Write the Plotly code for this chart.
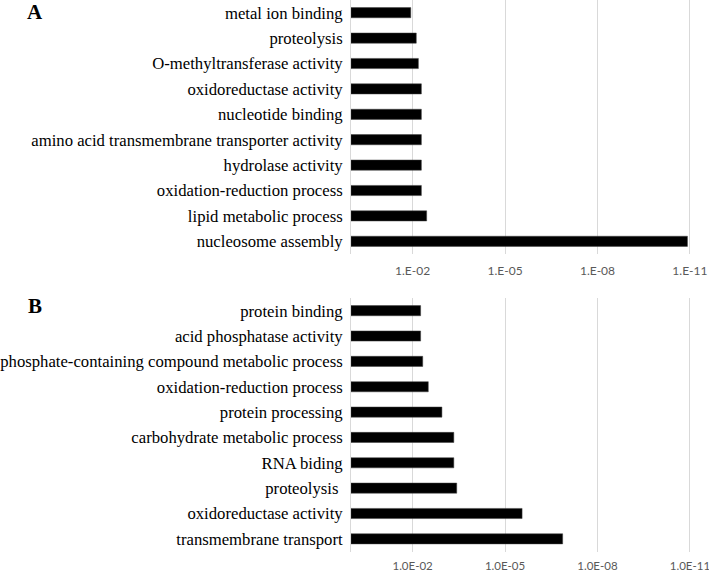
import math
import plotly.graph_objects as go

# Panel A (top to bottom)
cats_a = ["metal ion binding", "proteolysis", "O-methyltransferase activity",
          "oxidoreductase activity", "nucleotide binding",
          "amino acid transmembrane transporter activity", "hydrolase activity",
          "oxidation-reduction process", "lipid metabolic process",
          "nucleosome assembly"]
p_a = [1.15e-2, 7.6e-3, 6.5e-3, 5.2e-3, 5.2e-3, 5.2e-3, 5.2e-3, 5.2e-3,
       3.5e-3, 1.2e-11]

# Panel B (top to bottom)
cats_b = ["protein binding", "acid phosphatase activity",
          "phosphate-containing compound metabolic process",
          "oxidation-reduction process", "protein processing",
          "carbohydrate metabolic process", "RNA biding", "proteolysis ",
          "oxidoreductase activity", "transmembrane transport"]
p_b = [5.5e-3, 5.5e-3, 4.7e-3, 3.1e-3, 1.12e-3, 4.6e-4, 4.6e-4, 3.7e-4,
       2.8e-6, 1.35e-7]

tick_p = [1e-2, 1e-5, 1e-8, 1e-11]
ticktext_a = ["1.E-02", "1.E-05", "1.E-08", "1.E-11"]
ticktext_b = ["1.0E-02", "1.0E-05", "1.0E-08", "1.0E-11"]


def nlog(v):
    return [-math.log10(x) for x in v]


W, H = 709, 572
fig = go.Figure()
fig.add_trace(go.Bar(y=cats_a, x=nlog(p_a), orientation="h",
                     marker=dict(color="black", line=dict(color="#404040", width=0.5)),
                     xaxis="x", yaxis="y", showlegend=False, hoverinfo="skip"))
fig.add_trace(go.Bar(y=cats_b, x=nlog(p_b), orientation="h",
                     marker=dict(color="black", line=dict(color="#404040", width=0.5)),
                     xaxis="x2", yaxis="y2", showlegend=False, hoverinfo="skip"))

x0 = 351 / W
xcommon = dict(type="linear", range=[0, 11.62], domain=[x0, 1],
               tickvals=nlog(tick_p), automargin=False,
               showgrid=True, gridcolor="#d9d9d9", gridwidth=1,
               showline=False, zeroline=False, ticks="",
               ticklabeloverflow="allow")
ycommon = dict(autorange="reversed", showline=True, linecolor="#d9d9d9",
               linewidth=1, ticks="", showgrid=False, automargin=False,
               tickfont=dict(family="Liberation Serif", size=16.7, color="black"),
               ticklabelstandoff=4)

fig.update_layout(
    width=W, height=H, margin=dict(l=0, r=0, t=0, b=0, autoexpand=False),
    paper_bgcolor="white", plot_bgcolor="white", bargap=0.6,
    xaxis=dict(**xcommon, ticktext=ticktext_a, anchor="y", ticklabelstandoff=8,
               tickfont=dict(family="Lato", size=12, color="#595959")),
    yaxis=dict(**ycommon, domain=[(H - 254) / H, 1], anchor="x"),
    xaxis2=dict(**xcommon, ticktext=ticktext_b, anchor="y2", ticklabelstandoff=6,
                tickfont=dict(family="Lato", size=11.5, color="#595959")),
    yaxis2=dict(**ycommon, domain=[(H - 551.5) / H, (H - 298) / H], anchor="x2"),
    annotations=[
        dict(text="<b>A</b>", x=35 / W, y=1 - 12 / H, xref="paper", yref="paper",
             xanchor="center", yanchor="middle",
             showarrow=False, font=dict(family="Liberation Serif", size=21, color="black")),
        dict(text="<b>B</b>", x=35 / W, y=1 - 306 / H, xref="paper", yref="paper",
             xanchor="center", yanchor="middle",
             showarrow=False, font=dict(family="Liberation Serif", size=21, color="black")),
    ],
)

fig.write_html("out.html", config={"displayModeBar": False},
               post_script="document.body.style.margin='0px';")
